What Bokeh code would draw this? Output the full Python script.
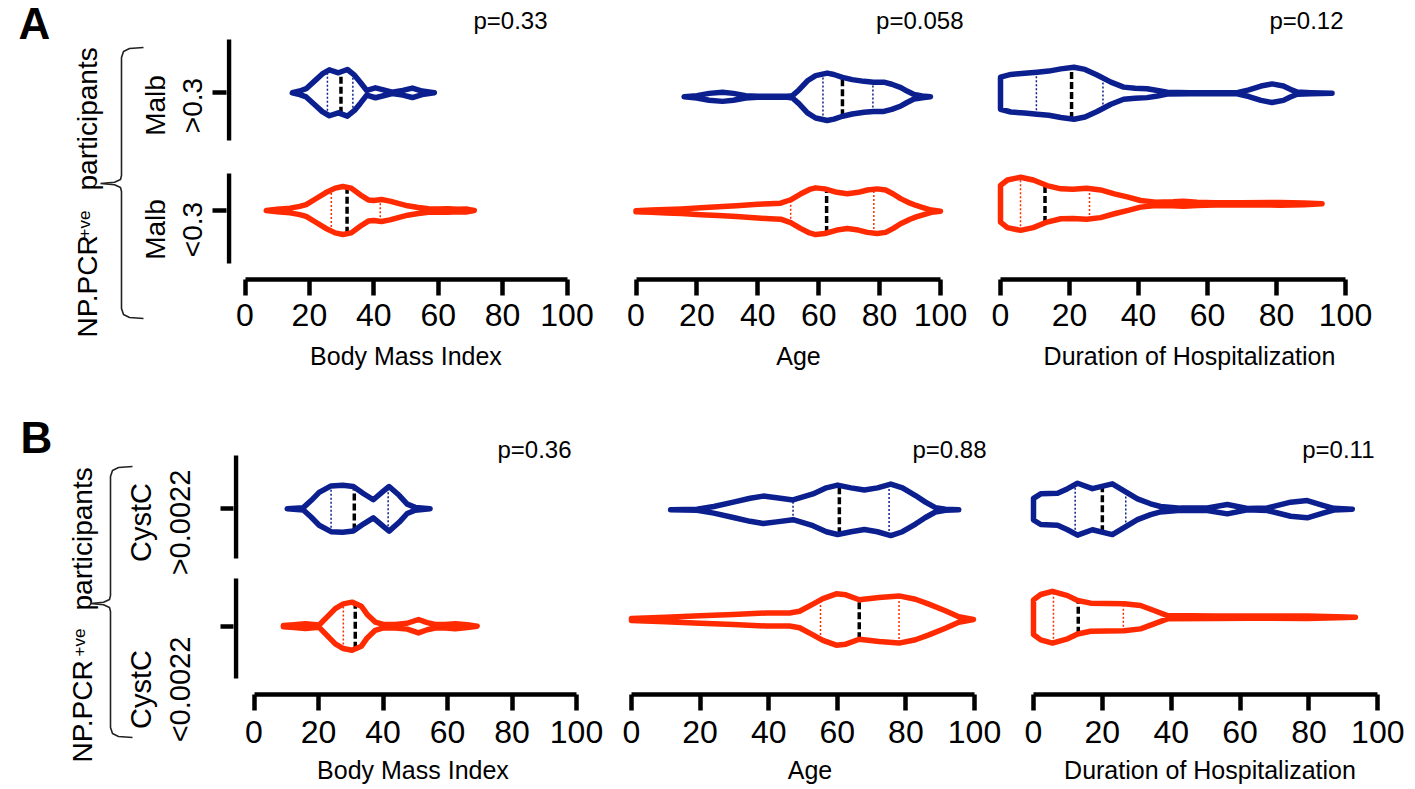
import numpy as np
from bokeh.plotting import figure
from bokeh.models import Range1d, FixedTicker
from bokeh.layouts import row, column
from bokeh.embed import file_html
from bokeh.resources import INLINE
from bokeh.core.properties import value

# ---------------- data ----------------
ticks = [0, 20, 40, 60, 80, 100]
panel_letters = ["A", "B"]
axis_titles = ["Body Mass Index", "Age", "Duration of Hospitalization"]
group_labels_A = [["Malb", ">0.3"], ["Malb", "<0.3"]]
group_labels_B = [["CystC", ">0.0022"], ["CystC", "<0.0022"]]
side_label = ["NP.PCR", "+ve", "participants"]
p_values_A = ["p=0.33", "p=0.058", "p=0.12"]
p_values_B = ["p=0.36", "p=0.88", "p=0.11"]

# violin profiles (x value, half width) ; "hi" = upper/blue group, "lo" = lower/red group
a_bmi_hi_x = [14.7, 17, 19, 22, 24, 26.2, 29, 31.8, 34, 35.8, 37.8, 40.5, 43, 45.7, 49, 52, 55, 58.8]
a_bmi_hi_w = [0, 0.015, 0.035, 0.11, 0.16, 0.195, 0.17, 0.198, 0.15, 0.09, 0.02, 0.042, 0.025, 0.006, 0.02, 0.04, 0.015, 0]
a_bmi_lo_x = [6.6, 10, 14, 17, 19, 22, 25, 28, 30.4, 33, 36, 38.3, 40, 42.4, 45, 47.6, 50.5, 53.8, 57, 60, 63, 66, 69, 71.2]
a_bmi_lo_w = [0, 0.01, 0.02, 0.035, 0.05, 0.1, 0.15, 0.19, 0.204, 0.19, 0.13, 0.09, 0.085, 0.093, 0.08, 0.06, 0.04, 0.025, 0.015, 0.012, 0.015, 0.01, 0.012, 0]
a_age_hi_x = [15.8, 20, 24, 28.4, 32, 36, 40, 45, 49.7, 51.4, 53.5, 56.3, 59, 62.8, 65, 67.8, 71, 74.9, 78, 81.4, 84, 87, 89, 91.3, 94, 96.7]
a_age_hi_w = [0, 0.01, 0.03, 0.04, 0.03, 0.01, 0.005, 0.004, 0.005, 0.01, 0.06, 0.14, 0.185, 0.207, 0.195, 0.17, 0.15, 0.135, 0.128, 0.128, 0.11, 0.08, 0.05, 0.02, 0.008, 0]
a_age_lo_x = [0, 5, 10, 15, 21.3, 27, 33, 40, 44, 47.5, 50.8, 54, 57, 59, 62, 66, 69.4, 73, 76, 79.2, 82, 84.5, 86.9, 90, 92, 94.5, 97, 100]
a_age_lo_w = [0.005, 0.01, 0.015, 0.02, 0.03, 0.038, 0.047, 0.06, 0.066, 0.07, 0.1, 0.15, 0.19, 0.204, 0.195, 0.165, 0.152, 0.165, 0.185, 0.195, 0.185, 0.15, 0.11, 0.07, 0.05, 0.03, 0.01, 0]
a_dur_hi_x = [0, 3, 7, 10.6, 14, 17.5, 21.3, 24.5, 28, 32, 35.7, 39, 42.5, 45.5, 48.3, 55, 62, 68.6, 72, 75.5, 78.7, 82, 84, 86, 90, 96.1]
a_dur_hi_w = [0.145, 0.17, 0.18, 0.19, 0.2, 0.22, 0.235, 0.215, 0.165, 0.1, 0.055, 0.045, 0.04, 0.025, 0.008, 0.005, 0.004, 0.005, 0.03, 0.065, 0.084, 0.065, 0.035, 0.01, 0.005, 0]
a_dur_lo_x = [0, 2, 5.8, 9.5, 13.5, 17.5, 21, 25, 29, 33, 37, 40.6, 45, 50, 53, 57, 62, 70, 81, 88, 93.2]
a_dur_lo_w = [0.166, 0.215, 0.24, 0.215, 0.165, 0.135, 0.132, 0.14, 0.125, 0.09, 0.06, 0.03, 0.015, 0.018, 0.022, 0.015, 0.01, 0.01, 0.012, 0.008, 0]

b_bmi_hi_x = [10.3, 15.3, 17.7, 20.2, 23.9, 27.5, 30.8, 33.9, 37, 40.1, 41.9, 45, 47.5, 50, 54.6]
b_bmi_hi_w = [0, 0.01, 0.07, 0.14, 0.195, 0.2, 0.19, 0.13, 0.077, 0.15, 0.19, 0.115, 0.04, 0.012, 0]
b_bmi_lo_x = [9.1, 12.5, 15.9, 20.2, 22.7, 25.2, 27.7, 30.4, 33.3, 35.1, 37.6, 40.1, 43.8, 47.5, 51, 53.7, 56.2, 59.3, 62.4, 66.1, 69.2]
b_bmi_lo_w = [0.005, 0.012, 0.02, 0.01, 0.08, 0.15, 0.19, 0.205, 0.17, 0.1, 0.035, 0.015, 0.015, 0.025, 0.057, 0.03, 0.015, 0.015, 0.022, 0.012, 0]
b_age_hi_x = [11.4, 19.1, 24, 29.7, 34.6, 38.4, 42.3, 47.1, 52.9, 56.8, 60.1, 64, 67.9, 71.7, 75.6, 79, 82.8, 85.7, 88.6, 91.5, 95.4]
b_age_hi_w = [0, 0.005, 0.03, 0.07, 0.105, 0.125, 0.11, 0.09, 0.145, 0.2, 0.225, 0.2, 0.18, 0.2, 0.235, 0.2, 0.13, 0.07, 0.02, 0.005, 0]
b_age_lo_x = [0, 10, 20, 29.7, 39.4, 46.1, 49, 52.9, 55.8, 59.7, 62.5, 66.4, 72.2, 78, 82.8, 86.7, 91.5, 95.4, 99.7]
b_age_lo_w = [0.01, 0.02, 0.035, 0.045, 0.06, 0.06, 0.075, 0.14, 0.19, 0.234, 0.225, 0.18, 0.2, 0.215, 0.185, 0.14, 0.08, 0.025, 0]
b_dur_hi_x = [0, 2.1, 7, 9.9, 12.8, 17.1, 22.9, 26.3, 30.2, 34, 36.9, 42.7, 50.5, 56.3, 62.1, 67.9, 74.7, 79.5, 84.3, 87.2, 92.6]
b_dur_hi_w = [0.1, 0.142, 0.148, 0.19, 0.24, 0.19, 0.235, 0.17, 0.096, 0.05, 0.025, 0.01, 0.012, 0.043, 0.006, 0.012, 0.065, 0.08, 0.034, 0.008, 0]
b_dur_lo_x = [0, 2.1, 5.5, 9.9, 12.8, 16.6, 26.3, 31.1, 35, 38.9, 52.4, 62.1, 79.5, 93.5]
b_dur_lo_w = [0.16, 0.21, 0.24, 0.2, 0.155, 0.13, 0.125, 0.108, 0.062, 0.015, 0.012, 0.01, 0.012, 0]

# [median, lower quartile, upper quartile]
a_bmi_hi_stats = [29.8, 25.6, 33.5]
a_bmi_lo_stats = [31.7, 26.8, 42.0]
a_age_hi_stats = [67.8, 61.4, 77.8]
a_age_lo_stats = [62.6, 50.8, 78.1]
a_dur_hi_stats = [20.6, 10.4, 29.7]
a_dur_lo_stats = [12.9, 5.8, 25.8]
b_bmi_hi_stats = [31.1, 23.9, 41.6]
b_bmi_lo_stats = [31.4, 27.7, 38.6]
b_age_hi_stats = [60.6, 47.1, 75.1]
b_age_lo_stats = [66.4, 55.1, 78.0]
b_dur_hi_stats = [20.0, 12.1, 26.8]
b_dur_lo_stats = [13.0, 5.8, 26.1]

# ---------------- style ----------------
FONT = "Liberation Sans"
BLUE = "#0b1f8f"
RED = "#ff2a00"
DECO_W = 212
TOTAL_H = 789


def make_sub(L, title, pval, hi, lo, yaxis=None):
    k = (L["t100"] - L["t0"]) / 100.0
    s = L["red"] - L["blue"]
    fx = lambda px: (px - L["t0"]) / k
    fy = lambda py: 1 - (py - L["blue"]) / s
    p = figure(width=L["fr"] - L["fl"], height=L["h"],
               x_range=Range1d(fx(L["xl"]), fx(L["xr"])),
               y_range=Range1d(fy(L["yb"]), fy(L["yt"])),
               min_border_left=L["xl"] - L["fl"], min_border_right=L["fr"] - L["xr"],
               min_border_top=L["yt"] - L["top"], min_border_bottom=L["top"] + L["h"] - L["yb"],
               output_backend="svg", toolbar_location=None)
    p.grid.visible = False
    p.outline_line_color = None
    p.background_fill_color = "white"
    xa = p.xaxis[0]
    xa.ticker = FixedTicker(ticks=ticks)
    xa.bounds = (0, 100)
    xa.axis_line_width = 4.5
    xa.major_tick_line_width = 4.5
    xa.major_tick_out = 16
    xa.major_tick_in = 0
    xa.minor_tick_line_color = None
    xa.major_label_text_font = FONT
    xa.major_label_text_font_size = "32px"
    xa.major_label_text_color = "black"
    xa.major_label_standoff = L["ls"]
    xa.axis_label = title
    xa.axis_label_text_font = FONT
    xa.axis_label_text_font_size = "25px"
    xa.axis_label_text_font_style = "normal"
    xa.axis_label_text_color = "black"
    xa.axis_label_standoff = L["ts"]
    ya = p.yaxis[0]
    if yaxis is None:
        ya.visible = False
    else:
        ya.ticker = FixedTicker(ticks=[0, 1])
        ya.axis_line_color = None
        ya.major_label_overrides = {0: "", 1: ""}
        ya.major_label_standoff = 0
        ya.major_label_text_font_size = "1px"
        ya.minor_tick_line_color = None
        ya.major_tick_line_width = 4.5
        ya.major_tick_out = yaxis["tick"]
        ya.major_tick_in = 0
        ax = fx(yaxis["x"])
        for (a, b) in yaxis["segs"]:
            p.segment(x0=[ax], y0=[fy(a)], x1=[ax], y1=[fy(b)], line_color="black",
                      line_width=4.5)
    # p-value
    p.text(x=[fx(L["px"])], y=[fy(L["py"])], text=[pval], text_align="right",
           text_baseline="alphabetic", text_font=value(FONT), text_font_size=value("24px"),
           text_color="black")
    for (xs, ws, stats), c, col in ((hi, 1, BLUE), (lo, 0, RED)):
        xs = np.asarray(xs, float)
        ws = np.asarray(ws, float)
        med, q1, q3 = stats
        for q in (q1, q3):
            h = float(np.interp(q, xs, ws))
            p.segment(x0=[q], y0=[c - h], x1=[q], y1=[c + h], line_color=col,
                      line_width=1.5, line_dash="2 2")
        h = float(np.interp(med, xs, ws))
        p.segment(x0=[med], y0=[c - h], x1=[med], y1=[c + h], line_color="black",
                  line_width=3.5, line_dash="7 3")
        px = np.concatenate([xs, xs[::-1]])
        py = np.concatenate([c + ws, (c - ws)[::-1]])
        p.patch(px, py, fill_color=None, line_color=col, line_width=5.5,
                line_join="round", line_cap="round")
    return p


def brace_pts(xv, xh, xt, y0, ym, y1):
    xs = [xh, xv + 8, xv + 2, xv, xv, xv - 1, xv - 7, xt, xv - 7, xv - 1, xv, xv, xv + 2, xv + 8, xh]
    ys = [y0, y0 + 1, y0 + 4, y0 + 10, ym - 8, ym - 4, ym - 1.2, ym, ym + 1.2, ym + 4, ym + 8,
          y1 - 10, y1 - 4, y1 - 1, y1]
    return xs, ys


def add_deco(p, letter, letter_pos, side_pos, groups, group_pos, brace):
    Y = lambda py: TOTAL_H - py
    p.text(x=[letter_pos[0]], y=[Y(letter_pos[1])], text=[letter], text_font=value(FONT),
           text_font_size=value("44px"), text_font_style="bold", text_baseline="alphabetic",
           text_align="left", text_color="black")
    for t, (bx, sy, sz) in zip(side_label, side_pos):
        p.text(x=[bx], y=[Y(sy)], text=[t], angle=np.pi / 2, text_align="left",
               text_baseline="alphabetic", text_font=value(FONT),
               text_font_size=value(sz), text_color="black")
    for lines, (cy, bxs, sz) in zip(groups, group_pos):
        for t, bx in zip(lines, bxs):
            p.text(x=[bx], y=[Y(cy)], text=[t], angle=np.pi / 2, text_align="center",
                   text_baseline="alphabetic", text_font=value(FONT),
                   text_font_size=value(sz), text_color="black")
    bx, by = brace
    p.line(bx, [Y(y) for y in by], line_color="#222222", line_width=1.6)


# ---- Row A layout (pixels) ----
RA = dict(top=0, h=400, yt=5, yb=279, ls=8, ts=13)
LA = [
    dict(RA, fl=212, fr=600, xl=226, xr=585, t0=244.5, t100=566.5, blue=92.3, red=210.0, px=547, py=20),
    dict(RA, fl=600, fr=975, xl=628, xr=968, t0=635.5, t100=940.0, blue=96.3, red=210.7, px=963, py=20),
    dict(RA, fl=975, fr=1415, xl=993, xr=1385, t0=1000.0, t100=1345.0, blue=92.7, red=203.3, px=1343, py=20),
]
RB = dict(top=400, h=389, yt=410, yb=694, ls=10, ts=10)
LB = [
    dict(RB, fl=212, fr=608, xl=233, xr=592, t0=253.5, t100=576.0, blue=508.3, red=625.7, px=571, py=449),
    dict(RB, fl=608, fr=1010, xl=624, xr=995, t0=631.0, t100=974.0, blue=509.3, red=619.0, px=986, py=449),
    dict(RB, fl=1010, fr=1415, xl=1024, xr=1395, t0=1033.0, t100=1377.3, blue=508.7, red=616.7, px=1374, py=449),
]

A_data = [
    ((a_bmi_hi_x, a_bmi_hi_w, a_bmi_hi_stats), (a_bmi_lo_x, a_bmi_lo_w, a_bmi_lo_stats)),
    ((a_age_hi_x, a_age_hi_w, a_age_hi_stats), (a_age_lo_x, a_age_lo_w, a_age_lo_stats)),
    ((a_dur_hi_x, a_dur_hi_w, a_dur_hi_stats), (a_dur_lo_x, a_dur_lo_w, a_dur_lo_stats)),
]
B_data = [
    ((b_bmi_hi_x, b_bmi_hi_w, b_bmi_hi_stats), (b_bmi_lo_x, b_bmi_lo_w, b_bmi_lo_stats)),
    ((b_age_hi_x, b_age_hi_w, b_age_hi_stats), (b_age_lo_x, b_age_lo_w, b_age_lo_stats)),
    ((b_dur_hi_x, b_dur_hi_w, b_dur_hi_stats), (b_dur_lo_x, b_dur_lo_w, b_dur_lo_stats)),
]

yaxA = dict(x=228.5, tick=14, segs=[(39, 140), (173, 263)])
yaxB = dict(x=235.5, tick=13, segs=[(455, 558), (578, 678)])

subsA = [make_sub(L, t, pv, hi, lo, yaxA if i == 0 else None)
         for i, (L, t, pv, (hi, lo)) in enumerate(zip(LA, axis_titles, p_values_A, A_data))]
subsB = [make_sub(L, t, pv, hi, lo, yaxB if i == 0 else None)
         for i, (L, t, pv, (hi, lo)) in enumerate(zip(LB, axis_titles, p_values_B, B_data))]

deco = figure(width=DECO_W, height=TOTAL_H, x_range=Range1d(0, DECO_W), y_range=Range1d(0, TOTAL_H),
              min_border=0, x_axis_type=None, y_axis_type=None,
              output_backend="svg", toolbar_location=None)
deco.grid.visible = False
deco.outline_line_color = None

add_deco(deco, panel_letters[0], (18, 23),
         [(87, 337, "28px"), (84, 238, "17px"), (87, 190, "28px")],
         group_labels_A, [(105, (155, 192), "28px"), (229, (155, 192), "28px")],
         brace_pts(121, 143, 100, 47, 183, 318))
add_deco(deco, panel_letters[1], (20, 437),
         [(82, 762, "28px"), (79, 656, "17px"), (82, 610, "28px")],
         group_labels_B, [(522, (140, 179), "29px"), (689, (140, 179), "29px")],
         brace_pts(110, 132, 90, 466, 603, 737))

root = row(deco, column(row(*subsA), row(*subsB)))
open("out.html", "w").write(file_html(root, INLINE))
